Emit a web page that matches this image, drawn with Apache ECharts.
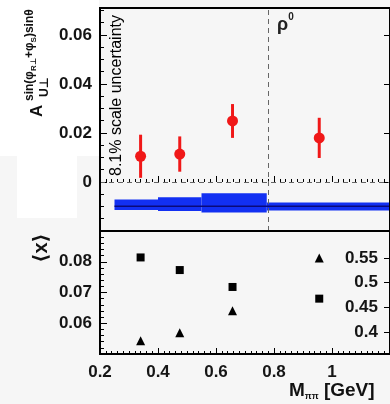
<!DOCTYPE html>
<html><head><meta charset="utf-8">
<script src="https://cdn.jsdelivr.net/npm/echarts@6/dist/echarts.min.js"></script>
<style>html,body{margin:0;padding:0;background:#f6f6f6}#c{width:390px;height:404px}</style>
</head><body><div id="c"></div>
<script>
// ---- data ----
const massBins = [0.34, 0.475, 0.657, 0.956];
const asymmetry = [0.0105, 0.0114, 0.0249, 0.018];
const asymErr = [0.0088, 0.0072, 0.0069, 0.0082];
const bandEdges = [0.25, 0.4, 0.55, 0.775, 1.2];
const bandLow = [-0.0114, -0.0118, -0.0125, -0.0116];
const bandHigh = [-0.0071, -0.0062, -0.0046, -0.0084];
const bandCenter = -0.0099;
const rhoMass = 0.775;
const meanX = [0.0814, 0.0773, 0.0718, 0.068];
const meanZ = [0.382, 0.398, 0.443, 0.55];
const rightBottomTicks = [0.4, 0.45, 0.5, 0.55];

const FONT = '"Liberation Sans", "DejaVu Sans", sans-serif';
const labelStyle = {fontFamily: FONT, fontWeight: 'bold', fontSize: 17, color: '#151515'};
const tickStyle = {color: '#000', width: 1};

const chart = echarts.init(document.getElementById('c'), null, {renderer: 'canvas'});

const bandData = bandLow.map((lo, i) => [bandEdges[i], bandEdges[i + 1], lo, bandHigh[i]]);
const errData = massBins.map((m, i) => [m, asymmetry[i] - asymErr[i], asymmetry[i] + asymErr[i]]);

const option = {
  animation: false,
  backgroundColor: '#f6f6f6',
  grid: [
    {left: 100, top: 8, width: 295, height: 223, show: true, borderColor: '#000', borderWidth: 2, backgroundColor: 'transparent', z: 10},
    {left: 100, top: 231, width: 295, height: 123, show: true, borderColor: '#000', borderWidth: 2, backgroundColor: 'transparent', z: 10}
  ],
  xAxis: [
    {gridIndex: 0, type: 'value', min: 0.2, max: 1.2, interval: 0.2,
     axisLine: {show: false}, splitLine: {show: false},
     axisTick: {show: true, inside: true, length: 6, lineStyle: tickStyle},
     minorTick: {show: true, splitNumber: 10, length: 3, lineStyle: tickStyle},
     axisLabel: {show: false}},
    {gridIndex: 1, type: 'value', min: 0.2, max: 1.2, interval: 0.2,
     axisLine: {show: false}, splitLine: {show: false},
     axisTick: {show: true, inside: true, length: 6, lineStyle: tickStyle},
     minorTick: {show: true, splitNumber: 10, length: 3, lineStyle: tickStyle},
     axisLabel: Object.assign({show: true, margin: 10, showMaxLabel: false}, labelStyle)}
  ],
  yAxis: [
    {gridIndex: 0, type: 'value', min: -0.02, max: 0.071, interval: 0.02,
     axisLine: {show: false}, splitLine: {show: false},
     axisTick: {show: true, inside: true, length: 7, lineStyle: tickStyle},
     minorTick: {show: true, splitNumber: 4, length: 4, lineStyle: tickStyle},
     axisLabel: Object.assign({show: true, margin: 8, showMinLabel: false, showMaxLabel: false}, labelStyle)},
    {gridIndex: 0, type: 'value', position: 'right', min: -0.02, max: 0.071, interval: 0.02,
     axisLine: {show: false}, splitLine: {show: false},
     axisTick: {show: true, inside: true, length: 6, lineStyle: tickStyle},
     axisLabel: {show: false}},
    {gridIndex: 1, type: 'value', min: 0.05, max: 0.09, interval: 0.01,
     axisLine: {show: false}, splitLine: {show: false},
     axisTick: {show: true, inside: true, length: 7, lineStyle: tickStyle},
     minorTick: {show: true, splitNumber: 5, length: 4, lineStyle: tickStyle},
     axisLabel: Object.assign({show: true, margin: 8, showMinLabel: false, showMaxLabel: false}, labelStyle)},
    {gridIndex: 1, type: 'value', position: 'right', min: 0.355, max: 0.605,
     axisLine: {show: false}, splitLine: {show: false},
     axisTick: {show: true, inside: true, length: 6, lineStyle: tickStyle, customValues: rightBottomTicks},
     axisLabel: Object.assign({show: true, inside: true, margin: 12, customValues: rightBottomTicks}, labelStyle)}
  ],
  series: [
    {type: 'custom', xAxisIndex: 0, yAxisIndex: 0, data: bandData, z: 2,
     encode: {x: [0, 1], y: [2, 3]},
     renderItem: function (params, api) {
       const p1 = api.coord([api.value(0), api.value(3)]);
       const p2 = api.coord([api.value(1), api.value(2)]);
       return {type: 'rect', shape: {x: p1[0], y: p1[1], width: p2[0] - p1[0], height: p2[1] - p1[1]},
               style: {fill: '#1230f2'}};
     }},
    {type: 'line', xAxisIndex: 0, yAxisIndex: 0, symbol: 'none', z: 3,
     data: [[bandEdges[0], bandCenter], [bandEdges[bandEdges.length - 1], bandCenter]],
     lineStyle: {color: '#0a0a7a', width: 1.5},
     markLine: {silent: true, symbol: 'none', label: {show: false},
       lineStyle: {type: [5, 4], color: '#666', width: 1},
       data: [{yAxis: 0}, {xAxis: rhoMass}]}},
    {type: 'custom', xAxisIndex: 0, yAxisIndex: 0, data: errData, z: 4,
     encode: {x: 0, y: [1, 2]},
     renderItem: function (params, api) {
       const a = api.coord([api.value(0), api.value(1)]);
       const b = api.coord([api.value(0), api.value(2)]);
       return {type: 'line', shape: {x1: a[0], y1: a[1], x2: b[0], y2: b[1]},
               style: {stroke: '#f01818', lineWidth: 3}};
     }},
    {type: 'scatter', xAxisIndex: 0, yAxisIndex: 0, z: 5, symbol: 'circle', symbolSize: 11,
     itemStyle: {color: '#f01818', opacity: 1},
     data: massBins.map((m, i) => [m, asymmetry[i]])},
    {type: 'scatter', xAxisIndex: 1, yAxisIndex: 2, z: 5, symbol: 'rect', symbolSize: 8,
     itemStyle: {color: '#000', opacity: 1},
     data: massBins.map((m, i) => [m, meanX[i]])},
    {type: 'scatter', xAxisIndex: 1, yAxisIndex: 3, z: 5, symbol: 'triangle', symbolSize: 9,
     itemStyle: {color: '#000', opacity: 1},
     data: massBins.map((m, i) => [m, meanZ[i]])}
  ],
  graphic: [
    {type: 'rect', z: -10, shape: {x: 0, y: 0, width: 99, height: 156}, style: {fill: '#ffffff'}},
    {type: 'rect', z: -10, shape: {x: 17, y: 156, width: 60, height: 62}, style: {fill: '#ffffff'}},
    {type: 'text', z: 100, x: 125, y: 176, rotation: Math.PI / 2,
     style: {text: '8.1% scale uncertainty', font: '16px ' + FONT, fill: '#000',
             align: 'left', verticalAlign: 'bottom', textAlign: 'left', textVerticalAlign: 'bottom'}},
    {type: 'text', z: 100, x: 46, y: 117, rotation: Math.PI / 2,
     style: {text: 'A', font: 'bold 17px ' + FONT, fill: '#111',
             align: 'left', verticalAlign: 'bottom', textAlign: 'left', textVerticalAlign: 'bottom'}},
    {type: 'text', z: 100, x: 51, y: 97, rotation: Math.PI / 2,
     style: {text: 'U⊥', font: 'bold 12px ' + FONT, fill: '#111',
             align: 'left', verticalAlign: 'bottom', textAlign: 'left', textVerticalAlign: 'bottom'}},
    {type: 'text', z: 100, x: 38, y: 101, rotation: Math.PI / 2,
     style: {text: '{b|sin(φ}{s|R⊥}{b|+φ}{s|S}{b|)sinθ}', fill: '#111',
             align: 'left', verticalAlign: 'bottom', textAlign: 'left', textVerticalAlign: 'bottom',
             rich: {
               b: {fontSize: 12, fontWeight: 'bold', fontFamily: FONT, lineHeight: 14, verticalAlign: 'top', fill: '#111'},
               s: {fontSize: 8, fontWeight: 'bold', fontFamily: FONT, lineHeight: 8, padding: [8, 0, 0, 0], verticalAlign: 'bottom', fill: '#111'}
             }}},
    {type: 'text', z: 100, x: 41, y: 248, rotation: Math.PI / 2,
     style: {text: '⟨x⟩', font: 'bold 20px ' + FONT, fill: '#111',
             align: 'center', verticalAlign: 'middle', textAlign: 'center', textVerticalAlign: 'middle'}},
    {type: 'text', z: 100, x: 277, y: 12,
     style: {text: '{r|ρ}{s|0}', fill: '#222',
             rich: {
               r: {fontSize: 18, fontWeight: 'bold', fontFamily: FONT, lineHeight: 22, verticalAlign: 'bottom', fill: '#222'},
               s: {fontSize: 10, fontWeight: 'bold', fontFamily: FONT, lineHeight: 12, verticalAlign: 'top', fill: '#222'}
             }}},
    {type: 'text', z: 100, x: 289, y: 381,
     style: {text: '{m|M}{s|ππ}{m| [GeV]}', fill: '#111',
             rich: {
               m: {fontSize: 19, fontWeight: 'bold', fontFamily: FONT, lineHeight: 20, verticalAlign: 'top', fill: '#111'},
               s: {fontSize: 9, fontWeight: 'bold', fontFamily: FONT, lineHeight: 9, padding: [15, 0, 0, 0], verticalAlign: 'bottom', fill: '#111'}
             }}}
  ]
};
chart.setOption(option);
</script>
</body></html>
